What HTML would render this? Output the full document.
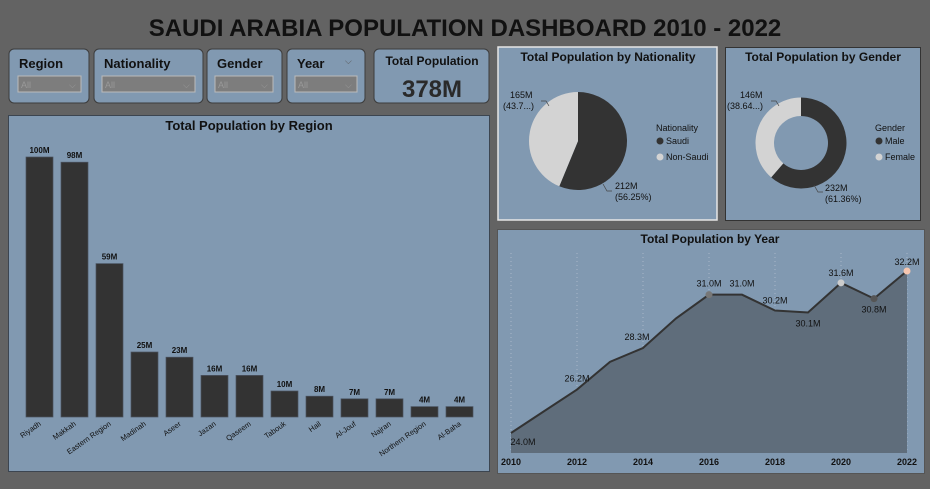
<!DOCTYPE html>
<html><head><meta charset="utf-8"><style>
body{margin:0;width:930px;height:484px;background:#636363;overflow:hidden;font-family:"Liberation Sans",sans-serif}
svg text{font-family:"Liberation Sans",sans-serif}
</style></head><body>
<svg id="svg" width="930" height="484" xmlns="http://www.w3.org/2000/svg">
<rect x="0" y="0" width="930" height="484" fill="#636363"/>
<text x="465" y="36" text-anchor="middle" font-size="24" font-weight="bold" fill="#111">SAUDI ARABIA POPULATION DASHBOARD 2010 - 2022</text>
<g><rect x="9" y="49" width="80" height="54" rx="5" fill="#8199b1" stroke="#3c3c3c"/><text x="19" y="68" font-size="13" font-weight="bold" fill="#111">Region</text><rect x="18" y="76" width="63" height="16" fill="#7d7d7d" stroke="#bbb"/><text x="21" y="88" font-size="9" fill="#999">All</text><text x="69" y="88" font-size="9" fill="#999">⌵</text></g>
<g><rect x="94" y="49" width="109" height="54" rx="5" fill="#8199b1" stroke="#3c3c3c"/><text x="104" y="68" font-size="13" font-weight="bold" fill="#111">Nationality</text><rect x="102" y="76" width="93" height="16" fill="#7d7d7d" stroke="#bbb"/><text x="105" y="88" font-size="9" fill="#999">All</text><text x="183" y="88" font-size="9" fill="#999">⌵</text></g>
<g><rect x="207" y="49" width="75" height="54" rx="5" fill="#8199b1" stroke="#3c3c3c"/><text x="217" y="68" font-size="13" font-weight="bold" fill="#111">Gender</text><rect x="215" y="76" width="58" height="16" fill="#7d7d7d" stroke="#bbb"/><text x="218" y="88" font-size="9" fill="#999">All</text><text x="261" y="88" font-size="9" fill="#999">⌵</text></g>
<g><rect x="287" y="49" width="78" height="54" rx="5" fill="#8199b1" stroke="#3c3c3c"/><text x="297" y="68" font-size="13" font-weight="bold" fill="#111">Year</text><text x="345" y="64" font-size="9" fill="#555">⌵</text><rect x="295" y="76" width="62" height="16" fill="#7d7d7d" stroke="#bbb"/><text x="298" y="88" font-size="9" fill="#999">All</text><text x="345" y="88" font-size="9" fill="#999">⌵</text></g>
<g><rect x="374" y="49" width="115" height="54" rx="5" fill="#8199b1" stroke="#3c3c3c"/><text x="432" y="65" text-anchor="middle" font-size="12" font-weight="bold" fill="#111">Total Population</text><text x="432" y="97" text-anchor="middle" font-size="24" font-weight="bold" fill="#2a2a2a">378M</text></g>

<g><rect x="8.5" y="115.5" width="481" height="356" fill="#8199b1" stroke="#3c4550"/><text x="249" y="130" text-anchor="middle" font-size="13" font-weight="bold" fill="#111">Total Population by Region</text><g id="bars"></g></g>

<g><rect x="498" y="47" width="219" height="173" fill="#8199b1" stroke="#e6e6e6" stroke-width="1.5"/><text x="608" y="61" text-anchor="middle" font-size="12" font-weight="bold" fill="#111">Total Population by Nationality</text><g id="pie"></g>
<text x="656" y="131" font-size="9" fill="#111">Nationality</text>
<circle cx="660" cy="141" r="3.5" fill="#333"/><text x="666" y="144" font-size="9" fill="#111">Saudi</text>
<circle cx="660" cy="157" r="3.5" fill="#d3d3d3"/><text x="666" y="160" font-size="9" fill="#111">Non-Saudi</text>
<text x="510" y="98" font-size="9" fill="#111">165M</text><text x="503" y="109" font-size="9" fill="#111">(43.7...)</text>
<text x="615" y="189" font-size="9" fill="#111">212M</text><text x="615" y="200" font-size="9" fill="#111">(56.25%)</text>
<polyline points="541,101 546,101 549,106" fill="none" stroke="#444" stroke-width="0.7"/><polyline points="603,184 607,191 612,191" fill="none" stroke="#444" stroke-width="0.7"/></g>

<g><rect x="725.5" y="47.5" width="195" height="173" fill="#8199b1" stroke="#333"/><text x="823" y="61" text-anchor="middle" font-size="12" font-weight="bold" fill="#111">Total Population by Gender</text><g id="donut"></g>
<text x="875" y="131" font-size="9" fill="#111">Gender</text>
<circle cx="879" cy="141" r="3.5" fill="#333"/><text x="885" y="144" font-size="9" fill="#111">Male</text>
<circle cx="879" cy="157" r="3.5" fill="#d3d3d3"/><text x="885" y="160" font-size="9" fill="#111">Female</text>
<text x="740" y="98" font-size="9" fill="#111">146M</text><text x="727" y="109" font-size="9" fill="#111">(38.64...)</text>
<text x="825" y="191" font-size="9" fill="#111">232M</text><text x="825" y="202" font-size="9" fill="#111">(61.36%)</text>
<polyline points="771,101 776,101 779,106" fill="none" stroke="#444" stroke-width="0.7"/><polyline points="814,185 818,192 823,192" fill="none" stroke="#444" stroke-width="0.7"/></g>

<g><rect x="497.5" y="229.5" width="427" height="244" fill="#8199b1" stroke="#555"/><text x="710" y="243" text-anchor="middle" font-size="12" font-weight="bold" fill="#111">Total Population by Year</text><g id="line"></g></g>
</svg>
<script>
const regions=["Riyadh","Makkah","Eastern Region","Madinah","Aseer","Jazan","Qaseem","Tabouk","Hail","Al-Jouf","Najran","Northern Region","Al-Baha"];
const regionValues=[100,98,59,25,23,16,16,10,8,7,7,4,4];
const regionLabels=["100M","98M","59M","25M","23M","16M","16M","10M","8M","7M","7M","4M","4M"];
const nationalities=["Saudi","Non-Saudi"];
const nationalityValues=[212,165];
const genders=["Male","Female"];
const genderValues=[232,146];
const years=[2010,2011,2012,2013,2014,2015,2016,2017,2018,2019,2020,2021,2022];
const yearValues=[24.0,25.1,26.2,27.6,28.3,29.8,31.0,31.0,30.2,30.1,31.6,30.8,32.2];
const yearTicks=[2010,2012,2014,2016,2018,2020,2022];
const NS="http://www.w3.org/2000/svg";
function mk(tag,attrs,parent,txt){const e=document.createElementNS(NS,tag);for(const k in attrs)e.setAttribute(k,attrs[k]);if(txt!==undefined)e.textContent=txt;parent.appendChild(e);return e;}
const bx=i=>39.5+i*35, by=v=>417-v*2.6;
const bg=document.getElementById('bars');
regions.forEach((r,i)=>{
 const b=mk('rect',{x:bx(i)-13.5,y:by(regionValues[i]),width:27,height:417-by(regionValues[i]),fill:'#333',stroke:'#4a5360','stroke-width':0.7},bg);
 
 
 const t=mk('text',{x:bx(i),y:by(regionValues[i])-4,'text-anchor':'middle','font-size':8,'font-weight':'bold',fill:'#111'},bg,regionLabels[i]);
 
 
 const l=mk('text',{x:bx(i)+2,y:425,'text-anchor':'end','font-size':7.5,fill:'#111',transform:`rotate(-35 ${bx(i)+2} 425)`},bg,r);
 
 
});
function arcs(g,cx,cy,R,r,vals,cols,names){
 const tot=vals.reduce((a,b)=>a+b,0);let a0=-Math.PI/2;
 vals.forEach((v,i)=>{const a1=a0+v/tot*2*Math.PI;const lg=(a1-a0)>Math.PI?1:0;
  const p=(a,rr)=>`${cx+rr*Math.cos(a)},${cy+rr*Math.sin(a)}`;
  let d=`M${p(a0,R)} A${R},${R} 0 ${lg} 1 ${p(a1,R)}`;
  d+= r>0?` L${p(a1,r)} A${r},${r} 0 ${lg} 0 ${p(a0,r)} Z`:` L${cx},${cy} Z`;
  const s=mk('path',{d:d,fill:cols[i]},g);
  
  
  a0=a1;});
}
arcs(document.getElementById('pie'),578,141,49,0,nationalityValues,['#333','#d3d3d3'],nationalities);
arcs(document.getElementById('donut'),801,143,45.5,27,genderValues,['#333','#d3d3d3'],genders);
const lx=y=>511+(y-2010)*33, ly=v=>433-(v-24)*19.76;
const lg=document.getElementById('line');
yearTicks.forEach(y=>{mk('line',{x1:lx(y),x2:lx(y),y1:253,y2:453,stroke:'#a9b8c9','stroke-dasharray':'1,3'},lg);
 const t=mk('text',{x:lx(y),y:465,'text-anchor':'middle','font-size':9,'font-weight':'bold',fill:'#111'},lg,String(y));
 
 });
let pts=years.map((y,i)=>`${lx(y)},${ly(yearValues[i])}`).join(' ');
const area=mk('polygon',{points:`${lx(years[0])},453 ${pts} ${lx(years[years.length-1])},453`,fill:'#5f6d7b'},lg);


const ln=mk('polyline',{points:pts,fill:'none',stroke:'#333','stroke-width':2},lg);


const labelIdx={0:[12,12],2:[0,-8],4:[-6,-8],6:[0,-8],7:[0,-8],8:[0,-7],9:[0,14],10:[0,-7],11:[0,14],12:[0,-6]};
const dotCol={6:'#777',10:'#ccc',11:'#555',12:'#f5c6b0'};
years.forEach((y,i)=>{
 if(dotCol[i]){const d=mk('circle',{cx:lx(y),cy:ly(yearValues[i]),r:3.5,fill:dotCol[i]},lg);
  
  }
 if(labelIdx[i]){const o=labelIdx[i];const t=mk('text',{x:lx(y)+o[0],y:ly(yearValues[i])+o[1],'text-anchor':'middle','font-size':9,fill:'#111'},lg,yearValues[i].toFixed(1)+'M');
  
  }
});
</script>
</body></html>
